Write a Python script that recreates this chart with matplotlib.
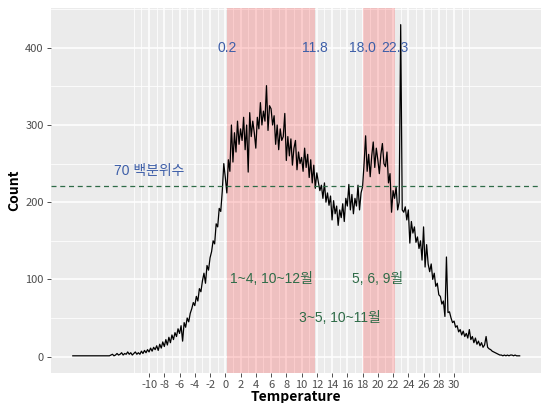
import numpy as np
import matplotlib
matplotlib.use("Agg")
import matplotlib.pyplot as plt
from matplotlib.ticker import MultipleLocator

plt.rcParams['font.family'] = ['Noto Sans CJK KR', 'DejaVu Sans']
plt.rcParams['axes.unicode_minus'] = False

# 기온 구간(0.2도 간격)과 빈도
temp_start, temp_step = -20.0, 0.2
counts = [
    1, 1, 1, 1, 1, 1, 1, 1, 1, 1, 1, 1, 1, 1, 1, 1, 1, 1, 1, 1, 1, 1, 1, 1, 1, 2,   # -20.0 ~ -15.0
    3, 1, 2, 4, 2, 3, 5, 2, 4, 3, 6, 3, 5, 2, 4, 6, 3, 5, 3, 7, 4, 8, 5, 9, 6,      # -14.8 ~ -10.0
    11, 7, 12, 9, 14, 8, 16, 11, 19, 13, 22, 15, 25, 18, 28, 22, 31, 26, 36, 30,    # -9.8 ~ -6.0
    40, 20, 44, 38, 50, 45, 56, 62, 70, 66, 78, 72, 88, 84, 98, 108, 95, 118, 112, 128,  # -5.8 ~ -2.0
    136, 150, 146, 172, 168, 192, 188, 214, 250, 232,                               # -1.8 ~ 0.0
    212, 255, 240, 300, 252, 290, 265, 305, 275, 295, 280, 310, 268, 300, 239, 316, 285, 305, 290, 270,  # 0.2 ~ 4.0
    310, 295, 329, 300, 318, 305, 351, 293, 325, 321, 300, 312, 275, 300, 268, 295, 280, 285, 315, 254,  # 4.2 ~ 8.0
    285, 260, 282, 248, 270, 280, 242, 265, 250, 258, 240, 270, 245, 262, 232, 255, 225, 248, 218, 238,  # 8.2 ~ 12.0
    226, 215, 222, 205, 225, 200, 212, 196, 208, 177, 202, 185, 195, 170, 190, 180, 198, 175, 205, 195,  # 12.2 ~ 16.0
    223, 190, 210, 185, 205, 195, 222, 190, 212, 220, 250, 286, 240, 262, 233, 260, 278, 245, 270, 255,  # 16.2 ~ 20.0
    237, 262, 276, 250, 246, 265, 225, 237, 187, 215, 205, 220, 190, 200, 430,      # 20.2 ~ 23.0
    190, 187, 194, 177, 190, 147, 175, 160, 168, 148, 155, 140, 150, 125, 168, 116, 145, 120, 110, 120,  # 23.2 ~ 27.0
    100, 108, 91, 95, 80, 78, 68, 72, 52, 129, 57, 58, 50, 44, 46, 38, 40, 32, 35, 28,  # 27.2 ~ 31.0
    33, 26, 30, 24, 35, 22, 26, 18, 24, 16, 20, 14, 18, 12, 15, 26, 12, 10, 9, 7,    # 31.2 ~ 35.0
    6, 5, 4, 3, 2, 2, 1, 2, 1, 2, 1, 2, 2, 1, 2, 1, 1, 1,                            # 35.2 ~ 38.6
]
temps = np.round(temp_start + temp_step * np.arange(len(counts)), 1)

# 강조 구간과 라벨
band_ranges = [(0.2, 11.8), (18.0, 22.3)]
band_labels = ["0.2", "11.8", "18.0", "22.3"]
band_label_x = [0.2, 11.8, 18.0, 22.3]
pct70 = 221
pct_label = "70 백분위수"
month_labels = ["1~4, 10~12월", "5, 6, 9월", "3~5, 10~11월"]
month_x = [6, 20, 15]
month_y = [100, 100, 50]

x_breaks = np.arange(-10, 31, 2)
y_breaks = [0, 100, 200, 300, 400]

blue = "#3d5ea8"
green = "#2e6b47"
label_font = ['Liberation Sans', 'Noto Sans CJK KR']

fig = plt.figure(figsize=(5.41, 4.03), dpi=100)
ax = fig.add_axes([0.0937, 0.074, 0.9063, 0.906])
ax.set_facecolor("#EBEBEB")

ax.set_xlim(-22.9, 41.4)
ax.set_ylim(-21.5, 451.5)
ax.set_xticks(x_breaks)
ax.set_yticks(y_breaks)
ax.xaxis.set_minor_locator(MultipleLocator(1))
ax.yaxis.set_minor_locator(MultipleLocator(50))

# ggplot 스타일 격자
for v in np.arange(-12, 33, 1):
    lw = 1.1 if (v % 2 == 0 and -10 <= v <= 30) else 0.55
    ax.axvline(v, color="white", lw=lw, zorder=0)
for v in np.arange(0, 451, 50):
    lw = 1.1 if v % 100 == 0 else 0.55
    ax.axhline(v, color="white", lw=lw, zorder=0)

for lo, hi in band_ranges:
    ax.axvspan(lo, hi, color="red", alpha=0.18, lw=0, zorder=1)

ax.plot(temps, counts, color="black", lw=0.9, zorder=3)
ax.axhline(pct70, color=green, lw=0.9, ls=(0, (4, 3)), zorder=4)

ax.text(-10, 240, pct_label, color=blue, fontsize=10, family=label_font,
        ha="center", va="center", zorder=5)
for lx, lab in zip(band_label_x, band_labels):
    ax.text(lx, 400, lab, color=blue, fontsize=10, family=label_font,
            ha="center", va="center", zorder=5)
for mx, my, lab in zip(month_x, month_y, month_labels):
    ax.text(mx, my, lab, color=green, fontsize=10, family=label_font,
            ha="center", va="center", zorder=5)

for s in ax.spines.values():
    s.set_visible(False)
ax.tick_params(which="major", length=3, width=0.6, color="#333333",
               labelsize=8, labelcolor="#4D4D4D", pad=2)
ax.tick_params(which="minor", length=0)

ax.set_xlabel("Temperature", fontsize=10, fontweight="bold", labelpad=0)
ax.set_ylabel("Count", fontsize=10, fontweight="bold", labelpad=3)

fig.savefig("out.png", dpi=100)
